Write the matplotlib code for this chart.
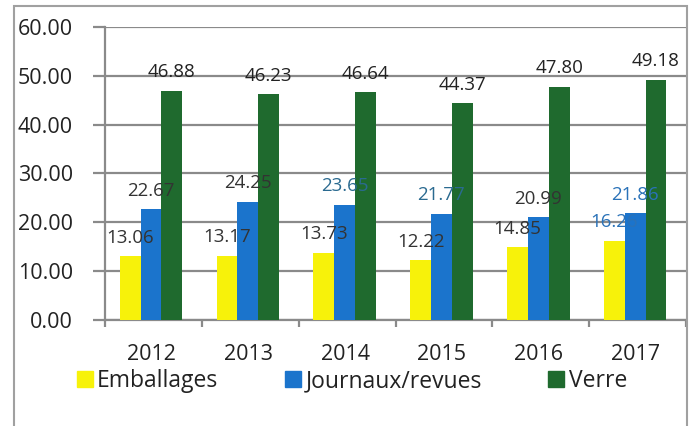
import matplotlib
matplotlib.use("Agg")
import matplotlib.pyplot as plt
from matplotlib.patches import Rectangle, Patch
import numpy as np

years = ["2012", "2013", "2014", "2015", "2016", "2017"]
emballages = [13.06, 13.17, 13.73, 12.22, 14.85, 16.26]
journaux = [22.67, 24.25, 23.65, 21.77, 20.99, 21.86]
verre = [46.88, 46.23, 46.64, 44.37, 47.80, 49.18]
series_names = ["Emballages", "Journaux/revues", "Verre"]
yticks = [0, 10, 20, 30, 40, 50, 60]

colors = ["#F7F20A", "#1B74CC", "#1F6A2E"]
label_colors = [
    ["#333333", "#333333", "#333333", "#333333", "#333333", "#2A72B8"],
    ["#333333", "#333333", "#2A6A90", "#2A6A90", "#333333", "#2A72B8"],
    ["#222222"] * 6,
]

plt.rcParams['font.family'] = ['Open Sans', 'DejaVu Sans']

fig = plt.figure(figsize=(6.93, 4.26), dpi=100)
ax = fig.add_axes([105/693, 1-320/426, (686-105)/693, (320-27)/426])

x = np.arange(len(years))
w = 0.215
data = [emballages, journaux, verre]
for i, (vals, c) in enumerate(zip(data, colors)):
    xs = x + (i - 1) * w - 0.025
    ax.bar(xs, vals, width=w, color=c, zorder=3, label=series_names[i])
    for j, (xx, v) in enumerate(zip(xs, vals)):
        ax.annotate(f"{v:.2f}", (xx, v), xytext=(0, 7), textcoords="offset points",
                    ha="center", va="bottom", fontsize=13.5,
                    color=label_colors[i][j], zorder=5)

ax.set_xlim(-0.5, 5.5)
ax.set_ylim(0, 60)
ax.set_yticks(yticks)
ax.set_yticklabels([f"{t:.2f}" for t in yticks], fontsize=15.5, color="#222222")
ax.yaxis.grid(True, color="#8a8a8a", linewidth=1.6, zorder=0)
ax.tick_params(axis="y", length=9, width=1.6, color="#8a8a8a", pad=14)

ax.set_xticks(x - 0.02)
ax.set_xticklabels(years, fontsize=15.5, color="#222222")
ax.tick_params(axis="x", which="major", length=0, pad=17)
ax.set_xticks(np.arange(-0.5, 6.0, 1.0), minor=True)
ax.tick_params(axis="x", which="minor", length=5, width=1.6, color="#8a8a8a")

for s in ["top", "right"]:
    ax.spines[s].set_visible(False)
for s in ["left", "bottom"]:
    ax.spines[s].set_color("#8a8a8a")
    ax.spines[s].set_linewidth(1.6)

handles = [Patch(color=c) for c in colors]
fig.legend(handles, series_names, loc="center", bbox_to_anchor=(352/693, 1-381/426),
           ncol=3, frameon=False, fontsize=16.5, handlelength=0.7, handleheight=0.7,
           handletextpad=0.2, columnspacing=2.9, labelcolor="#222222",
           borderpad=0.1)

fig.patches.append(Rectangle((14/693, -0.05), (687-14)/693, 1.05-6/426,
                             transform=fig.transFigure, fill=False,
                             edgecolor="#a0a0a0", linewidth=1.5))

fig.savefig("out.png", dpi=100)
